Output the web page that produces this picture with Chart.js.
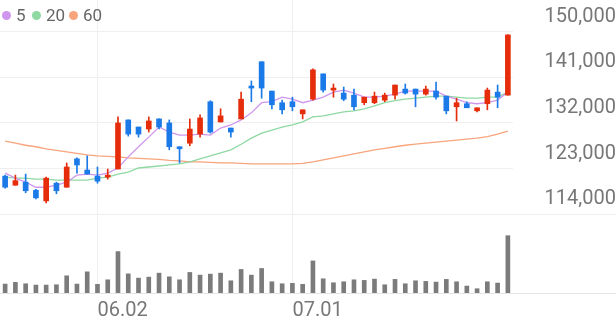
<!DOCTYPE html>
<html>
<head>
<meta charset="utf-8">
<script src="https://cdn.jsdelivr.net/npm/chart.js@4.4.1/dist/chart.umd.min.js"></script>
<style>
  html, body { margin: 0; padding: 0; background: #fff; }
  #wrap { position: relative; width: 616px; height: 321px; }
  .leg { position: absolute; top: 4px; height: 22px; font: 17px Roboto, sans-serif; color: #666; display: flex; align-items: center; }
  .leg i { display: inline-block; width: 9px; height: 9px; border-radius: 50%; margin-right: 5px; }
</style>
</head>
<body>
<div id="wrap">
  <canvas id="stockChart" width="616" height="321"></canvas>
  <div class="leg" style="left:2px"><i style="background:#cf96ee"></i>5</div>
  <div class="leg" style="left:32px"><i style="background:#8fd9a3"></i>20</div>
  <div class="leg" style="left:69px"><i style="background:#f8a47c"></i>60</div>
</div>
<script>
const dates = [
  "05.20", "05.21", "05.22", "05.23", "05.26", "05.27", "05.28", "05.29", "05.30",
  "06.02", "06.04", "06.05", "06.09", "06.10", "06.11", "06.12", "06.13", "06.16", "06.17",
  "06.18", "06.19", "06.20", "06.23", "06.24", "06.25", "06.26", "06.27", "06.30",
  "07.01", "07.02", "07.03", "07.04", "07.07", "07.08", "07.09", "07.10", "07.11", "07.14",
  "07.15", "07.16", "07.17", "07.18", "07.21", "07.22", "07.23", "07.24", "07.25", "07.28",
  "07.29", "07.30"
];
const shownDates = ["06.02", "07.01"];

const opens = [
  121500, 119700, 120300, 118700, 116600, 120100, 119300, 124900, 122700, 121500,
  121300, 122900, 132600, 131200, 130800, 132800, 132000, 127300, 128000, 129800,
  136200, 132200, 131000, 132800, 139300, 144100, 138300, 136000, 136200, 133800,
  136700, 141700, 138500, 137900, 137500, 136000, 136000, 136500, 137500, 138700,
  138700, 137700, 138300, 137300, 135200, 135800, 134400, 135800, 138100, 137500
];
const highs = [
  121700, 121700, 121900, 118900, 121300, 120300, 124100, 125100, 125500, 123300,
  122900, 133200, 132600, 131200, 133200, 132800, 132600, 127300, 132800, 133600,
  136400, 134800, 131000, 138100, 140300, 144100, 138300, 136500, 137100, 134600,
  142700, 141700, 139700, 139100, 138700, 137100, 138100, 137900, 139500, 139700,
  138700, 139300, 140100, 137300, 136900, 136200, 135000, 138900, 139500, 149400
];
const lows = [
  119100, 119700, 118200, 117000, 116200, 118000, 119300, 122100, 121900, 120100,
  120900, 122900, 129400, 129200, 130200, 130800, 126700, 124100, 127500, 129200,
  130000, 132200, 129200, 132800, 136200, 136900, 134800, 133800, 134400, 132800,
  136500, 138100, 137100, 136400, 134600, 135600, 135800, 136200, 136700, 137700,
  135200, 137500, 136700, 133800, 132400, 135000, 134200, 134600, 135000, 137500
];
const closes = [
  119300, 120600, 118600, 117200, 121100, 118600, 123300, 123700, 121900, 120500,
  121700, 132000, 129800, 129800, 132400, 131200, 127300, 126900, 130800, 133000,
  130200, 133400, 130200, 136700, 138900, 138900, 135600, 134600, 135200, 134600,
  142500, 138500, 138900, 136700, 135200, 137100, 137300, 137500, 139500, 137900,
  137700, 138700, 137100, 134400, 136000, 135000, 135000, 138500, 137100, 149400
];
const volumes = [
  90000, 107000, 93000, 80000, 80000, 83000, 173000, 90000, 213000, 87000,
  133000, 417000, 193000, 150000, 160000, 200000, 163000, 133000, 207000, 180000,
  190000, 200000, 123000, 237000, 180000, 247000, 113000, 93000, 97000, 87000,
  323000, 143000, 103000, 113000, 133000, 127000, 140000, 83000, 137000, 93000,
  123000, 117000, 110000, 137000, 113000, 70000, 43000, 113000, 100000, 577000
];
const ma5 = [
  122100, 121100, 120300, 119300, 119300, 119700, 120300, 121700, 121900, 121700,
  122100, 123100, 125300, 127300, 129200, 131200, 130200, 129600, 129600, 129800,
  129600, 131000, 131600, 132600, 134000, 136000, 136200, 137100, 136700, 136000,
  136500, 137100, 138100, 138500, 137900, 137100, 137100, 137300, 137700, 138300,
  138300, 138300, 138300, 137300, 136700, 136000, 135800, 136000, 136500, 138100
];
const ma20 = [
  121300, 121100, 121100, 120900, 120900, 120700, 120700, 120700, 120700, 121100,
  121300, 121900, 122300, 123100, 123300, 123500, 123700, 123900, 124300, 124900,
  125500, 126100, 126700, 127800, 129000, 130000, 130600, 131200, 131600, 132200,
  133200, 133400, 133800, 134200, 134400, 134800, 135400, 136000, 136400, 136700,
  136900, 137100, 137300, 137300, 137100, 136900, 136900, 137100, 137100, 138100
];
const ma60 = [
  128400, 128000, 127600, 127300, 126900, 126600, 126300, 126000, 125700, 125500,
  125400, 125300, 125100, 125000, 124900, 124800, 124600, 124500, 124300, 124300,
  124200, 124100, 124100, 124000, 123900, 123900, 123900, 123900, 123900, 124000,
  124300, 124700, 125100, 125500, 125900, 126300, 126700, 127000, 127300, 127600,
  127800, 128000, 128200, 128400, 128600, 128800, 129000, 129300, 129800, 130400
];
const priceTicks = [114000, 123000, 132000, 141000, 150000];

const upColor = "#e52d0c";
const downColor = "#1b7ae8";
const candleColors = opens.map((o, i) => (closes[i] >= o ? upColor : downColor));
const labelFont = { family: "Roboto", size: 20 };

// full-width separator lines under the price panel and the volume panel
const panelLines = {
  id: "panelLines",
  beforeDatasetsDraw(chart) {
    const c = chart.ctx;
    const yPrice = chart.scales.y.getPixelForValue(priceTicks[0]);
    const yBase = chart.chartArea.bottom;
    c.save();
    c.lineWidth = 1;
    c.strokeStyle = "#eeeeee";
    c.beginPath();
    c.moveTo(0, Math.round(yPrice) + 0.5);
    c.lineTo(chart.width, Math.round(yPrice) + 0.5);
    c.stroke();
    c.strokeStyle = "#e4e4e4";
    c.beginPath();
    c.moveTo(0, Math.round(yBase) + 0.5);
    c.lineTo(chart.width, Math.round(yBase) + 0.5);
    c.stroke();
    c.restore();
  },
};

const ctx = document.getElementById("stockChart").getContext("2d");

new Chart(ctx, {
  type: "bar",
  data: {
    labels: dates,
    datasets: [
      {
        label: "body",
        data: opens.map((o, i) => [o, closes[i]]),
        backgroundColor: candleColors,
        barThickness: 5,
        minBarLength: 2,
        grouped: false,
        yAxisID: "y",
        order: 0,
      },
      {
        label: "wick",
        data: lows.map((l, i) => [l, highs[i]]),
        backgroundColor: candleColors,
        barThickness: 1,
        grouped: false,
        yAxisID: "y",
        order: 1,
      },
      { label: "5", type: "line", data: ma5, borderColor: "#cf96ee", borderWidth: 1.3, pointRadius: 0, yAxisID: "y", order: 2 },
      { label: "20", type: "line", data: ma20, borderColor: "#8fd9a3", borderWidth: 1.3, pointRadius: 0, yAxisID: "y", order: 2 },
      { label: "60", type: "line", data: ma60, borderColor: "#f8a47c", borderWidth: 1.3, pointRadius: 0, yAxisID: "y", order: 2 },
      {
        label: "volume",
        data: volumes,
        backgroundColor: "#7b7b7b",
        barThickness: 4,
        grouped: false,
        yAxisID: "yv",
        order: 3,
      },
    ],
  },
  options: {
    responsive: false,
    animation: false,
    devicePixelRatio: 1,
    layout: { padding: 0 },
    plugins: { legend: { display: false }, tooltip: { enabled: false } },
    scales: {
      x: {
        offset: true,
        grid: {
          offset: false,
          drawTicks: false,
          color: (c) => (shownDates.includes(dates[c.index]) ? "#eeeeee" : "rgba(0,0,0,0)"),
        },
        border: { display: false },
        ticks: {
          autoSkip: false,
          maxRotation: 0,
          align: "start",
          padding: 6,
          color: "#777",
          font: labelFont,
          callback: (v, i) => (shownDates.includes(dates[i]) ? dates[i] : ""),
        },
        afterFit: (s) => { s.height = 28; s.paddingLeft = 0; s.paddingRight = 0; },
      },
      y: {
        position: "right",
        min: 98400,
        max: 156300,
        afterBuildTicks: (s) => { s.ticks = priceTicks.map((v) => ({ value: v })); },
        afterFit: (s) => { s.width = 103; s.paddingTop = 0; s.paddingBottom = 0; },
        grid: { color: "#efefef", drawTicks: false },
        border: { display: false },
        ticks: {
          crossAlign: "far",
          padding: 23,
          labelOffset: -15,
          color: "#777",
          font: labelFont,
          callback: (v) => v.toLocaleString("en-US"),
        },
      },
      yv: { display: false, min: 0, max: 2950000 },
    },
  },
  plugins: [panelLines],
});
</script>
</body>
</html>
